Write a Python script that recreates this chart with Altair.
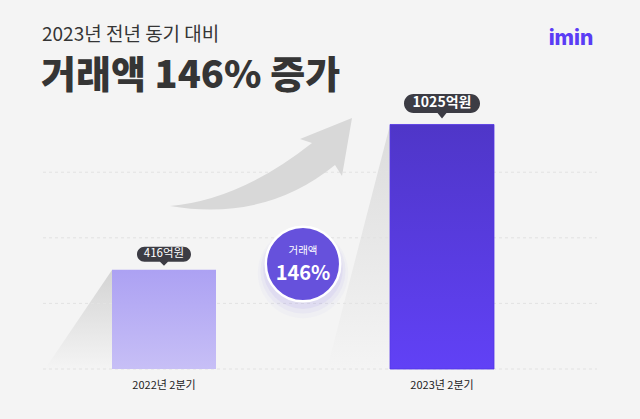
import math
import altair as alt
import pandas as pd

# ---------------- data ----------------
categories = ["2022년 2분기", "2023년 2분기"]
values = [416, 1025]
grid_values = [0, 275, 550, 825]
unit = "억원"
title_sub = "2023년 전년 동기 대비"
growth = round((values[1] - values[0]) / values[0] * 100)
title_main = f"거래액 {growth}% 증가"
badge_label = "거래액"
badge_value = f"{growth}%"
logo_text = "imin"

# ---------------- styles ----------------
W, H = 640, 419
FONT = "Noto Sans CJK KR"
BG = "#f4f4f4"
DARK = "#353535"

df = pd.DataFrame({"category": categories, "value": values})
df["label"] = [f"{v}{unit}" for v in values]
grid_df = pd.DataFrame({"value": grid_values})
one = pd.DataFrame({"k": [0]})

xscale = alt.Scale(domain=categories, range=[112, 494], paddingInner=0.626, paddingOuter=0)
yscale = alt.Scale(domain=[-209.6, 1546.9])
X = alt.X("category:N", scale=xscale, axis=None)
Y = alt.Y("value:Q", scale=yscale, axis=None)


def grad(c0, c1):
    return alt.Gradient(
        gradient="linear",
        stops=[alt.GradientStop(color=c0, offset=0), alt.GradientStop(color=c1, offset=1)],
        x1=0, x2=0, y1=0, y2=1,
    )


def decor(path, fill):
    return alt.Chart(one).mark_point(
        shape=path, size=4, filled=True, fill=fill, opacity=1, strokeWidth=0
    ).encode(x=alt.value(0), y=alt.value(0))


# decorative shadows & arrow
wedge1 = decor("M112,270 L113,270 L113,369 L45,369 Z", grad("#d3d3d3", BG))
wedge2 = decor("M390,125 L391,125 L391,369 L327,369 Z", grad("#dcdcdc", BG))
arrow = decor(
    "M170,206 Q240,200 312,143 L300,139 L352,118 L342,176 L335,165 Q265,222 170,206 Z",
    "#d8d8d8",
)

grid = alt.Chart(grid_df).mark_rule(
    strokeDash=[3, 3], color="#e2e2e2", strokeWidth=1
).encode(y=Y, x=alt.value(43), x2=alt.value(597))

bar1 = alt.Chart(df).transform_filter(alt.datum.category == categories[0]).mark_bar(
    fill=grad("#aca1f3", "#c7bff6")
).encode(x=X, y=Y)
bar2 = alt.Chart(df).transform_filter(alt.datum.category == categories[1]).mark_bar(
    fill=grad("#4f36c8", "#6141f6"), stroke="#5234e6", strokeWidth=0.8
).encode(x=X, y=Y)

pill1 = "M-19.5,-23 L19.5,-23 A7.5,7.5 0 0 1 19.5,-8 L4,-8 L0,-4 L-4,-8 L-19.5,-8 A7.5,7.5 0 0 1 -19.5,-23 Z"
pill2 = "M-28.5,-30.5 L28.5,-30.5 A9.5,9.5 0 0 1 28.5,-11.5 L4.5,-11.5 L0,-6 L-4.5,-11.5 L-28.5,-11.5 A9.5,9.5 0 0 1 -28.5,-30.5 Z"
pills = alt.Chart(df).mark_point(
    size=4, filled=True, fill="#3c3c44", opacity=1, strokeWidth=0
).encode(
    x=X, y=Y,
    shape=alt.Shape("category:N", scale=alt.Scale(domain=categories, range=[pill1, pill2]), legend=None),
)
pill_text1 = alt.Chart(df).transform_filter(alt.datum.category == categories[0]).mark_text(
    font=FONT, fontSize=11.5, color="white", dy=-15.5, baseline="middle"
).encode(x=X, y=Y, text="label:N")
pill_text2 = alt.Chart(df).transform_filter(alt.datum.category == categories[1]).mark_text(
    font=FONT, fontSize=14, fontWeight="bold", color="white", dy=-21, baseline="middle"
).encode(x=X, y=Y, text="label:N")

cat_labels = alt.Chart(df).mark_text(
    font=FONT, fontSize=11, color="#222222", baseline="middle"
).encode(x=X, y=alt.value(386), text="category:N")

# growth badge
CX, CY, R = 303, 264, 42
glows = [
    alt.Chart(one).mark_point(
        shape="circle", size=math.pi * (R + dr) ** 2, filled=True, fill="#7a66e8",
        opacity=op, strokeWidth=0
    ).encode(x=alt.value(CX), y=alt.value(CY + dy))
    for dr, dy, op in [(9, 9, 0.035), (6, 7, 0.05), (3, 5, 0.08)]
]
circle = alt.Chart(one).mark_point(
    shape="circle", size=math.pi * R ** 2, filled=True, fill="#6651dc", opacity=1,
    stroke="white", strokeWidth=2.5, strokeOpacity=1,
).encode(x=alt.value(CX), y=alt.value(CY))
badge_t1 = alt.Chart(one).mark_text(
    text=badge_label, font=FONT, fontSize=10.5, color="white", baseline="middle"
).encode(x=alt.value(CX), y=alt.value(CY - 13))
badge_t2 = alt.Chart(one).mark_text(
    text=badge_value, font=FONT, fontSize=20, fontWeight="bold", color="white", baseline="middle"
).encode(x=alt.value(CX), y=alt.value(CY + 10))

# titles & logo
t_sub = alt.Chart(one).mark_text(
    text=title_sub, font=FONT, fontSize=19, color=DARK, align="left", baseline="middle"
).encode(x=alt.value(42), y=alt.value(35))
t_main = alt.Chart(one).mark_text(
    text=title_main, font=FONT, fontSize=38, fontWeight=900, color=DARK, align="left", baseline="middle"
).encode(x=alt.value(41), y=alt.value(76.5))
logo = alt.Chart(one).mark_text(
    text=logo_text, font="Inter", fontSize=21, fontWeight=800, color="#5a3cf5", align="center", baseline="middle"
).encode(x=alt.value(571), y=alt.value(39))

chart = alt.layer(
    wedge1, wedge2, grid, arrow, bar1, bar2, pills, pill_text1, pill_text2, cat_labels,
    *glows, circle, badge_t1, badge_t2, t_sub, t_main, logo,
).properties(
    width=W, height=H, background=BG, padding=0, autosize="none"
).configure_view(stroke=None)

chart.save("out.html", embed_options={"renderer": "svg", "actions": False})
